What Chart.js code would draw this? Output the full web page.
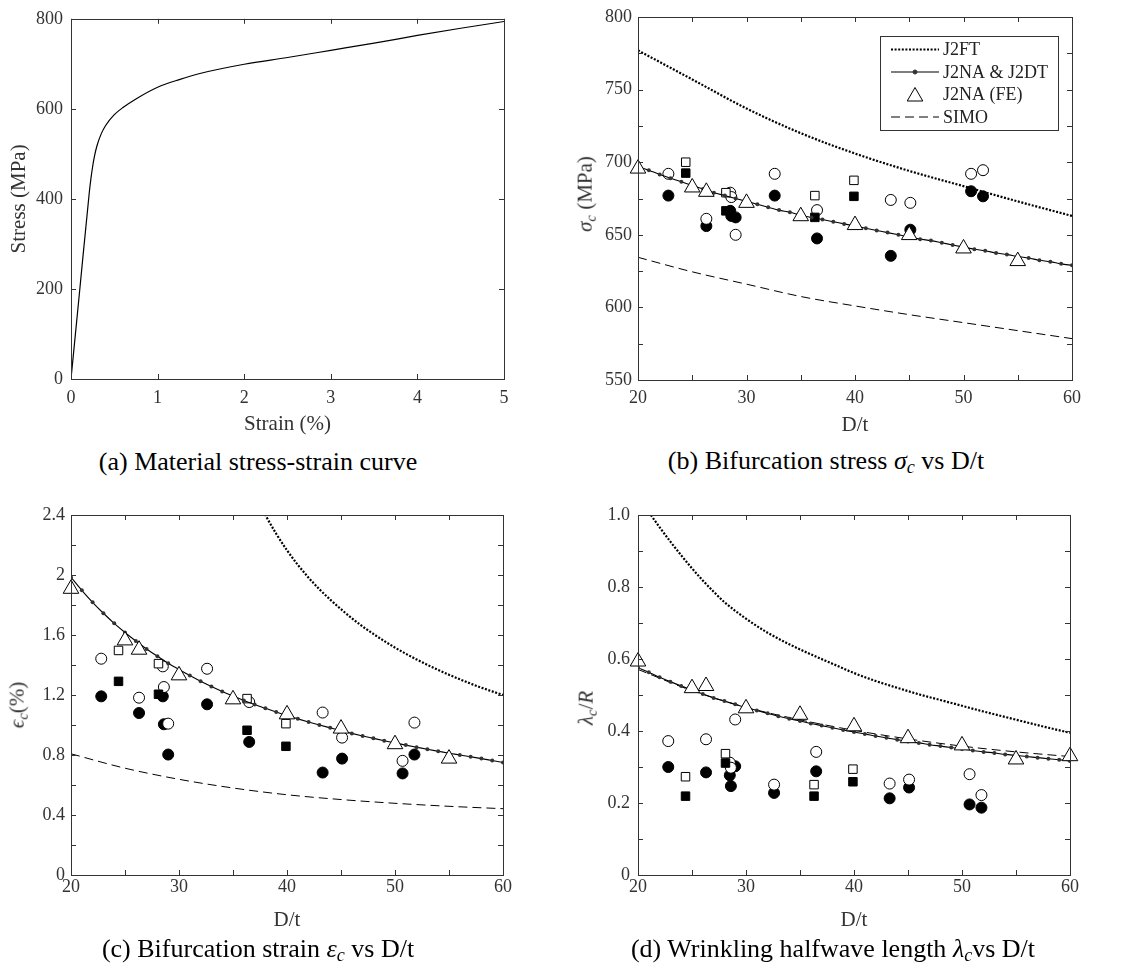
<!DOCTYPE html>
<html>
<head>
<meta charset="utf-8">
<script src="https://cdn.jsdelivr.net/npm/chart.js@4.4.0/dist/chart.umd.min.js"></script>
<style>
  body { margin: 0; background: #fff; width: 1138px; height: 974px; position: relative; overflow: hidden; font-family: 'Liberation Serif', 'Times New Roman', serif; }
  canvas { position: absolute; }
  .cap { position: absolute; font-size: 26px; color: #000; white-space: nowrap; transform: translate(-50%, -50%); }
  .cap sub, .ylab sub { font-size: 0.7em; vertical-align: -0.25em; }
  .ylab { position: absolute; font-size: 21px; color: #333; white-space: nowrap; transform: translate(-50%, -50%) rotate(-90deg); }
</style>
</head>
<body>
<canvas id="chartA" width="569" height="440" style="left:0;top:0"></canvas>
<canvas id="chartB" width="569" height="440" style="left:569px;top:0"></canvas>
<canvas id="chartC" width="569" height="450" style="left:0;top:487px"></canvas>
<canvas id="chartD" width="569" height="450" style="left:569px;top:487px"></canvas>

<div class="ylab" style="left:586px;top:194px"><i>σ</i><sub><i>c</i></sub> (MPa)</div>
<div class="ylab" style="left:18px;top:705px"><i>ϵ</i><sub><i>c</i></sub>(%)</div>
<div class="ylab" style="left:587px;top:708px"><i>λ</i><sub><i>c</i></sub>/<i>R</i></div>

<div class="cap" style="left:258px;top:462px">(a) Material stress-strain curve</div>
<div class="cap" style="left:826px;top:462px">(b) Bifurcation stress <i>σ<sub>c</sub></i> vs D/t</div>
<div class="cap" style="left:258px;top:950px">(c) Bifurcation strain <i>ε<sub>c</sub></i> vs D/t</div>
<div class="cap" style="left:833px;top:950px">(d) Wrinkling halfwave length <i>λ<sub>c</sub></i>vs D/t</div>

<script>
// (a) material curve
const strainPct = [0, 0.1, 0.21, 0.23, 0.25, 0.27, 0.3, 0.35, 0.4, 0.5, 0.6, 0.75, 1.0, 1.25, 1.5, 2.0, 2.5, 3.0, 3.5, 4.0, 4.5, 5.0];
const stressMPa = [0, 196, 412, 445, 472, 494, 518, 545, 563, 587, 603, 622, 648, 665, 679, 699, 714, 730, 746, 763, 779, 794];

// D/t grid of the J2NA & J2DT curve (one dot per unit)
const dtGrid = [20,21,22,23,24,25,26,27,28,29,30,31,32,33,34,35,36,37,38,39,40,41,42,43,44,45,46,47,48,49,50,51,52,53,54,55,56,57,58,59,60];
const sigmaJ2NA = [697,694.5,691.5,689,686.5,684,681.5,679,677,675,673,671,669,667,665.5,663.5,662,660.5,659,657.5,656,654.5,653,651.5,650,648.5,647,646,644.5,643,641.5,640,639,637.5,636.5,635,634,632.5,631.5,630,629];
const epsJ2NA = [1.985,1.898,1.818,1.745,1.678,1.617,1.560,1.507,1.458,1.412,1.370,1.330,1.292,1.257,1.224,1.193,1.164,1.137,1.111,1.087,1.063,1.041,1.020,1.000,0.981,0.962,0.944,0.927,0.911,0.895,0.880,0.866,0.852,0.838,0.825,0.812,0.800,0.788,0.776,0.763,0.750];
const lamJ2NA = [0.576,0.563,0.549,0.537,0.525,0.514,0.503,0.492,0.483,0.474,0.465,0.457,0.449,0.441,0.434,0.428,0.421,0.415,0.409,0.403,0.397,0.392,0.386,0.381,0.376,0.371,0.367,0.362,0.358,0.354,0.350,0.346,0.342,0.339,0.335,0.332,0.329,0.326,0.323,0.320,0.317];

// coarse D/t grid for J2FT (b) and SIMO curves
const dtCoarse = [20, 25, 30, 35, 40, 45, 50, 55, 60];
const sigmaJ2FT = [777, 757, 737, 720, 706, 694, 683.5, 673, 663];
const sigmaSIMO = [634.5, 624.5, 616, 607.5, 601, 595, 589.5, 584, 578.5];
const epsSIMO = [0.808, 0.712, 0.638, 0.580, 0.535, 0.503, 0.478, 0.458, 0.442];
const lamSIMO = [0.571, 0.512, 0.466, 0.431, 0.402, 0.378, 0.358, 0.342, 0.329];

// J2FT in (c) and (d), only the part inside the frame
const dtEpsJ2FT = [37.5,38,39,40,41,42,43,44,45,46,47,48,49,50,51,52,53,54,55,56,57,58,59,60];
const epsJ2FT = [2.47,2.40,2.275,2.165,2.068,1.982,1.905,1.836,1.772,1.712,1.657,1.607,1.560,1.516,1.475,1.437,1.401,1.367,1.335,1.305,1.276,1.249,1.224,1.200];
const dtLamJ2FT = [21,22,23,24,25,26,27,28,30,32,34,36,38,40,42,44,46,48,50,52,54,56,58,60];
const lamJ2FT = [1.008,0.966,0.926,0.888,0.852,0.818,0.787,0.758,0.712,0.673,0.641,0.613,0.587,0.561,0.539,0.520,0.502,0.486,0.470,0.454,0.439,0.424,0.409,0.395];

// J2NA (FE) triangles
const dtFE = [20, 25, 26.3, 30, 35, 40, 45, 50, 55];
const sigmaFE = [695.6, 682.6, 679.6, 672, 662.8, 656.7, 649.8, 640.6, 631.9];
const epsFE = [1.908, 1.564, 1.502, 1.331, 1.171, 1.071, 0.976, 0.872, 0.776];
const dtFELam = [20, 25, 26.3, 30, 35, 40, 45, 50, 55, 60];
const lamFE = [0.593, 0.519, 0.525, 0.463, 0.445, 0.413, 0.380, 0.360, 0.321, 0.330];

// test specimens: circles
const dtCircle = [22.8, 26.3, 28.5, 28.6, 29.0, 32.6, 36.5, 43.3, 45.1, 50.7, 51.8];
const sigmaOpenC = [692, 661, 679, 676, 650, 692, 667, 674, 672, 692, 694.5];
const sigmaFullC = [677, 656, 666.5, 663, 662, 677, 647.5, 635.5, 653.5, 680, 676.5];
const epsOpenC = [1.442, 1.182, 1.391, 1.253, 1.009, 1.375, 1.153, 1.083, 0.916, 0.761, 1.016];
const epsFullC = [1.191, 1.080, 1.191, 1.005, 0.803, 1.138, 0.887, 0.683, 0.776, 0.677, 0.803];
const lamOpenC = [0.372, 0.377, 0.312, 0.298, 0.432, 0.251, 0.342, 0.254, 0.265, 0.280, 0.222];
const lamFullC = [0.300, 0.285, 0.277, 0.247, 0.302, 0.228, 0.288, 0.213, 0.243, 0.196, 0.187];

// test specimens: squares
const dtSquare = [24.4, 28.1, 36.3, 39.9];
const sigmaOpenS = [700, 679, 677, 687.5];
const sigmaFullS = [692.5, 666.5, 662, 676.5];
const epsOpenS = [1.497, 1.409, 1.176, 1.009];
const epsFullS = [1.291, 1.205, 0.965, 0.858];
const lamOpenS = [0.273, 0.337, 0.251, 0.294];
const lamFullS = [0.219, 0.311, 0.219, 0.259];

Chart.defaults.font.family = "'Liberation Serif', 'Times New Roman', serif";
Chart.defaults.color = '#333';
Chart.defaults.animation = false;

const pts = (xs, ys) => xs.map((x, i) => ({ x: x, y: ys[i] }));

// box around the plot with inward ticks on all four sides
const framePlugin = {
  id: 'frame',
  afterDraw(chart, args, opts) {
    const ctx = chart.ctx, a = chart.chartArea, sx = chart.scales.x, sy = chart.scales.y;
    const len = 5;
    ctx.save();
    ctx.strokeStyle = '#333';
    ctx.lineWidth = 1;
    ctx.beginPath();
    for (let v = sx.min; v <= sx.max + 1e-9; v += opts.xStep) {
      const px = Math.round(sx.getPixelForValue(v)) + 0.5;
      ctx.moveTo(px, a.bottom); ctx.lineTo(px, a.bottom - len);
      ctx.moveTo(px, a.top); ctx.lineTo(px, a.top + len);
    }
    for (let v = sy.min; v <= sy.max + 1e-9; v += opts.yStep) {
      const py = Math.round(sy.getPixelForValue(v)) + 0.5;
      ctx.moveTo(a.left, py); ctx.lineTo(a.left + len, py);
      ctx.moveTo(a.right, py); ctx.lineTo(a.right - len, py);
    }
    ctx.stroke();
    ctx.strokeRect(Math.round(a.left) + 0.5, Math.round(a.top) + 0.5, Math.round(a.right - a.left), Math.round(a.bottom - a.top));
    ctx.restore();
  }
};

// boxed legend inside panel (b)
const boxLegend = {
  id: 'boxLegend',
  afterDraw(chart, args, opts) {
    if (!opts.show) return;
    const ctx = chart.ctx;
    const x0 = 311, y0 = 36, w = 178, h = 94;
    ctx.save();
    ctx.fillStyle = '#fff';
    ctx.fillRect(x0, y0, w, h);
    ctx.strokeStyle = '#333';
    ctx.lineWidth = 1;
    ctx.strokeRect(x0 + 0.5, y0 + 0.5, w, h);
    const items = chart.data.datasets.filter(d => d.inLegend).sort((p, q) => p.inLegend - q.inLegend);
    items.forEach((d, i) => {
      const yy = y0 + 13.5 + i * 22.5;
      const l0 = 322, l1 = 370, mid = (l0 + l1) / 2;
      if (d.showLine) {
        ctx.beginPath();
        ctx.setLineDash(d.borderDash || []);
        ctx.strokeStyle = d.borderColor;
        ctx.lineWidth = d.borderWidth;
        ctx.moveTo(l0, yy); ctx.lineTo(l1, yy);
        ctx.stroke();
        ctx.setLineDash([]);
      }
      if (d.pointRadius > 0) {
        ctx.fillStyle = d.pointBackgroundColor;
        ctx.strokeStyle = d.pointBorderColor;
        ctx.lineWidth = d.pointBorderWidth || 1;
        Chart.helpers.drawPoint(ctx, {
          pointStyle: d.pointStyle, rotation: 0, radius: d.pointRadius, borderWidth: d.pointBorderWidth || 1
        }, mid, yy + (d.pointStyle === 'triangle' ? 2 : 0));
      }
      ctx.fillStyle = '#222';
      ctx.font = "18px 'Liberation Serif', serif";
      ctx.textBaseline = 'middle';
      ctx.textAlign = 'left';
      ctx.fillText(d.label, 374, yy + 1);
    });
    ctx.restore();
  }
};

function axis(o) {
  return {
    type: 'linear', min: o.min, max: o.max,
    grid: { display: false, drawTicks: false },
    border: { display: false },
    ticks: { stepSize: o.step, padding: o.pad, font: { size: 18 }, color: '#333', callback: o.fmt || (v => String(v)) },
    title: o.title ? { display: true, text: o.title, font: { size: 21 }, color: '#333', padding: o.titlePad } : { display: false },
    afterFit: s => { if (s.isHorizontal()) s.height = o.size; else s.width = o.size; }
  };
}

function curve(label, xs, ys, extra) {
  return Object.assign({
    label: label, data: pts(xs, ys), showLine: true, borderColor: '#000', borderWidth: 1.1,
    pointRadius: 0, pointHoverRadius: 0, cubicInterpolationMode: 'monotone', fill: false
  }, extra);
}

function marks(label, xs, ys, style, filled, r) {
  return {
    label: label, data: pts(xs, ys), showLine: false, pointStyle: style,
    pointRadius: r, pointHoverRadius: r,
    pointBackgroundColor: filled ? '#000' : '#fff', pointBorderColor: '#000', pointBorderWidth: 1,
    clip: false
  };
}

function panelSets(feX, feY, naY, ftX, ftY, simoY, oc, fc, os, fs) {
  return [
    Object.assign(marks('J2NA (FE)', feX, feY, 'triangle', false, 9), { inLegend: 3 }),
    curve('J2NA & J2DT', dtGrid, naY, {
      inLegend: 2, pointRadius: 2, pointStyle: 'circle', pointBackgroundColor: '#333', pointBorderColor: '#333', pointBorderWidth: 0
    }),
    marks('fs', dtSquare, fs, 'rect', true, 6),
    marks('os', dtSquare, os, 'rect', false, 6),
    marks('oc', dtCircle, oc, 'circle', false, 5.5),
    marks('fc', dtCircle, fc, 'circle', true, 5.5),
    curve('J2FT', ftX, ftY, { inLegend: 1, borderWidth: 2.2, borderDash: [2, 1.6] }),
    curve('SIMO', dtCoarse, simoY, { inLegend: 4, borderWidth: 1, borderDash: [9, 5] })
  ];
}

function build(id, datasets, x, y, frame, legendOn, layoutPad) {
  return new Chart(document.getElementById(id), {
    type: 'scatter',
    data: { datasets: datasets },
    options: {
      responsive: false,
      events: [],
      layout: { padding: layoutPad },
      scales: { x: x, y: y },
      plugins: {
        legend: { display: false },
        tooltip: { enabled: false },
        frame: frame,
        boxLegend: { show: legendOn }
      }
    },
    plugins: [framePlugin, boxLegend]
  });
}

const oneDec = v => (v === 0 ? '0' : String(+v.toFixed(1)));

// (a)
build('chartA',
  [curve('stress-strain', strainPct, stressMPa, { borderWidth: 1.2 })],
  axis({ min: 0, max: 5, step: 1, pad: 8.5, size: 61, title: 'Strain (%)', titlePad: { bottom: 3.4 } }),
  axis({ min: 0, max: 800, step: 200, pad: 8, size: 71, title: 'Stress (MPa)', titlePad: { top: 6.4 } }),
  { xStep: 1, yStep: 200 }, false, { top: 17, right: 65, left: 0, bottom: 0 });

// (b)
build('chartB',
  panelSets(dtFE, sigmaFE, sigmaJ2NA, dtCoarse, sigmaJ2FT, sigmaSIMO, sigmaOpenC, sigmaFullC, sigmaOpenS, sigmaFullS),
  axis({ min: 20, max: 60, step: 10, pad: 7.5, size: 60, title: 'D/t', titlePad: { bottom: 2.4 } }),
  axis({ min: 550, max: 800, step: 50, pad: 6, size: 69 }),
  { xStep: 5, yStep: 25 }, true, { top: 17, right: 66, left: 0, bottom: 0 });

// (c)
build('chartC',
  panelSets(dtFE, epsFE, epsJ2NA, dtEpsJ2FT, epsJ2FT, epsSIMO, epsOpenC, epsFullC, epsOpenS, epsFullS),
  axis({ min: 20, max: 60, step: 10, pad: 1, size: 62, title: 'D/t', titlePad: { bottom: 4.1 } }),
  axis({ min: 0, max: 2.4, step: 0.4, pad: 6, size: 71, fmt: oneDec }),
  { xStep: 5, yStep: 0.2 }, false, { top: 28, right: 66, left: 0, bottom: 0 });

// (d)
build('chartD',
  panelSets(dtFELam, lamFE, lamJ2NA, dtLamJ2FT, lamJ2FT, lamSIMO, lamOpenC, lamFullC, lamOpenS, lamFullS),
  axis({ min: 20, max: 60, step: 10, pad: 1, size: 62, title: 'D/t', titlePad: { bottom: 4.1 } }),
  axis({ min: 0, max: 1, step: 0.2, pad: 8, size: 69, fmt: v => (v === 0 ? '0' : v.toFixed(1)) }),
  { xStep: 5, yStep: 0.1 }, false, { top: 28, right: 68, left: 0, bottom: 0 });
</script>
</body>
</html>
